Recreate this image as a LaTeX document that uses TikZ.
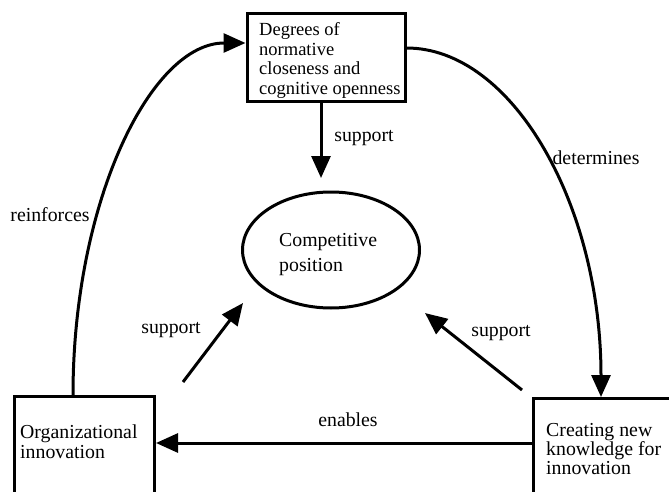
\documentclass[tikz,border=0pt]{standalone}
\usepackage{fontspec}
\setmainfont{Liberation Serif}
\usetikzlibrary{arrows.meta,shapes.geometric}
\begin{document}
\begin{tikzpicture}[x=1pt,y=-1pt,
  box/.style={draw, line width=3pt, inner sep=0pt},
  lbl/.style={font=\fontsize{19.8}{24}\selectfont, inner sep=0pt},
  txt/.style={align=left, inner sep=0pt, anchor=north west},
  conn/.style={line width=3pt, -{Triangle[length=22pt,width=19pt]}},
]
\useasboundingbox (0,0) rectangle (669,492);
\clip (0,0) rectangle (669,492);
% boxes
\node[box, minimum width=158pt, minimum height=88pt] (deg) at (326,58) {};
\node[txt, font=\fontsize{18.5}{19.4}\selectfont] (degt) at (259,22.6) {Degrees of\\normative\\closeness and\\cognitive openness};
\node[draw, ellipse, line width=3pt, inner sep=0pt, minimum width=177pt, minimum height=116pt] (comp) at (331,250) {};
\node[txt, font=\fontsize{19.8}{25}\selectfont] (compt) at (279,233.3) {Competitive\\position};
\node[box, minimum width=140pt, minimum height=130pt, anchor=north west] (org) at (13,395) {};
\node[txt, font=\fontsize{19.8}{20}\selectfont] (orgt) at (20,424.3) {Organizational\\innovation};
\node[box, minimum width=200pt, minimum height=130pt, anchor=north west] (cre) at (532,397) {};
\node[txt, font=\fontsize{19.8}{19}\selectfont] (cret) at (546,423.3) {Creating new\\knowledge for\\innovation};
% coordinates
\coordinate (s1) at (321,178);
\coordinate (s2a) at (183,382);
\coordinate (s2b) at (243,303);
\coordinate (s3a) at (522,390);
\coordinate (s3b) at (425,313);
\coordinate (e) at (0,443);
\coordinate (r0) at (73,0);
\coordinate (r1) at (0,43);
\coordinate (d0) at (0,48);
\coordinate (d1) at (601,0);
% connectors
\draw[conn] (deg.south -| s1) -- (s1);
\draw[conn] (s2a) -- (s2b);
\draw[conn] (s3a) -- (s3b);
\draw[conn] (cre.west |- e) -- (org.east |- e);
\draw[conn] (org.north -| r0) .. controls (73,201) and (151,43) .. (deg.west |- r1);
\draw[conn] (deg.east |- d0) .. controls (512,48) and (601,204) .. (cre.north -| d1);
% labels
\node[lbl] (lsup1) at (364,138) {support};
\node[lbl] (lsup2) at (171,330) {support};
\node[lbl] (lsup3) at (501,333) {support};
\node[lbl] (ldet) at (596,158) {determines};
\node[lbl] (lrei) at (50,215) {reinforces};
\node[lbl] (lena) at (348,420) {enables};
\end{tikzpicture}
\end{document}
